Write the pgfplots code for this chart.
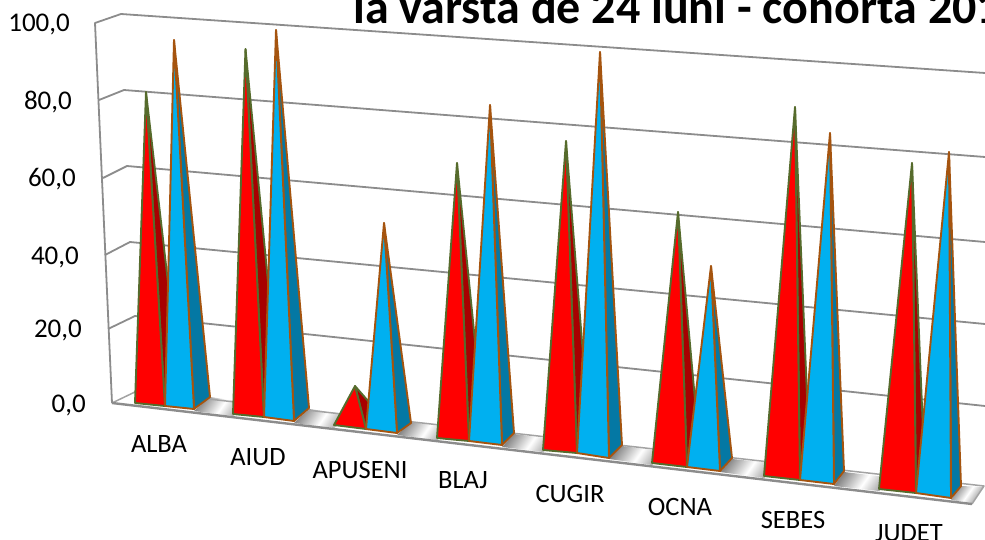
\documentclass[border=0pt]{standalone}
\usepackage{fontspec}
\setmainfont{Carlito}
\usepackage{pgfplots}
\pgfplotsset{compat=1.18}

\definecolor{redface}{HTML}{FF0000}
\definecolor{redside}{HTML}{A80000}
\definecolor{blueface}{HTML}{00B0F0}
\definecolor{blueside}{HTML}{0478A4}
\definecolor{redline}{HTML}{566B2C}
\definecolor{blueline}{HTML}{A5540F}
\definecolor{wall}{HTML}{8C8C8C}

% front-left, front-right, back-right, apex (picture coordinates)
\newcommand{\redpyr}[4]{
  \addplot[fill=redside, draw=redline, line width=1.9pt, line join=round] coordinates {#2 #3 #4} -- cycle;
  \addplot[fill=redface, draw=redline, line width=1.9pt, line join=round] coordinates {#1 #2 #4} -- cycle;
}
\newcommand{\bluepyr}[4]{
  \addplot[fill=blueside, draw=blueline, line width=1.9pt, line join=round] coordinates {#2 #3 #4} -- cycle;
  \addplot[fill=blueface, draw=blueline, line width=1.9pt, line join=round] coordinates {#1 #2 #4} -- cycle;
}
\newcommand{\gap}[1]{
  \addplot[draw=none, left color=gray!95, right color=gray!110!black, middle color=white, shading angle=55] coordinates {#1} -- cycle;
}
\newcommand{\ticklab}[2]{\node[anchor=base east, inner sep=0pt, font=\fontsize{27}{30}\selectfont] at (axis cs:#1) {#2};}
\newcommand{\catlab}[2]{\node[anchor=base, inner sep=0pt, font=\fontsize{26.5}{30}\selectfont] at (axis cs:#1) {#2};}

\begin{document}
\begin{tikzpicture}
\begin{axis}[
  at={(0pt,0pt)}, anchor=south west,
  width=985pt, height=540pt, scale only axis,
  xmin=0, xmax=985, ymin=0, ymax=540, y dir=reverse,
  hide axis, clip=true,
]
% walls and grid lines
\addplot[draw=wall, line width=1.8pt, line join=round] coordinates {(112,403) (95,23) (121,14) (985,73)};
\addplot[draw=wall, line width=1.8pt, line join=round] coordinates {(99,100) (124,90) (985,157)};
\addplot[draw=wall, line width=1.8pt, line join=round] coordinates {(103,178) (127,166) (985,242)};
\addplot[draw=wall, line width=1.8pt, line join=round] coordinates {(105,255) (130,242) (985,324)};
\addplot[draw=wall, line width=1.8pt, line join=round] coordinates {(108,329) (135,316) (985,406)};

% floor
\addplot[fill=white, draw=none] coordinates {(112,403) (972,504) (984,486) (137,391)} -- cycle;
\gap{(194,411) (233,416) (250,403) (210,397)}
\gap{(294,423) (334,428) (352,415) (309,409)}
\gap{(397,435) (437,440) (455,428) (411,422)}
\gap{(502,447) (543,452) (560,440) (514,434)}
\gap{(609,459) (652,465) (668,452) (622,446)}
\gap{(720,472) (764,478) (780,464) (732,459)}
\gap{(834,486) (879,491) (895,478) (844,472)}
\gap{(951,500) (972,503) (984,487) (961,486)}
\addplot[draw=wall!80, line width=1.5pt, line join=round] coordinates {(112,403) (137,391) (984,486) (972,504)};
\addplot[draw=wall, line width=2.4pt] coordinates {(112,403) (972,504)};

% ALBA
\redpyr{(135,403)}{(165,406)}{(181,395)}{(146,92)}
\bluepyr{(165,406)}{(194,409)}{(210,397)}{(174,40)}
% AIUD
\redpyr{(233,414)}{(264,417)}{(280,406)}{(245.5,49)}
\bluepyr{(264,417)}{(294,421)}{(309,408)}{(276,30)}
% APUSENI
\redpyr{(334,425)}{(366,429)}{(382,417)}{(355,386)}
\bluepyr{(366,429)}{(397,433)}{(411,423)}{(384,223)}
% BLAJ
\redpyr{(437,438)}{(469,441)}{(484,430)}{(457,163)}
\bluepyr{(469,441)}{(502,445)}{(514,433)}{(490,105)}
% CUGIR
\redpyr{(543,450)}{(577,453)}{(590,442)}{(566,141)}
\bluepyr{(577,453)}{(609,458)}{(622,445)}{(600,52)}
% OCNA
\redpyr{(652,463)}{(687,467)}{(700,455)}{(678,212)}
\bluepyr{(687,467)}{(720,471)}{(732,458)}{(711,266)}
% SEBES
\redpyr{(764,476)}{(800,480)}{(810,468)}{(795,107)}
\bluepyr{(800,480)}{(834,484)}{(844,471)}{(830,133)}
% JUDET
\redpyr{(879,489)}{(916,493)}{(925,480)}{(912,163)}
\bluepyr{(916,493)}{(951,498)}{(961,486)}{(949,152)}

\ticklab{70,32}{100,0}
\ticklab{72,110}{80,0}
\ticklab{76,187}{60,0}
\ticklab{79,264}{40,0}
\ticklab{82,337}{20,0}
\ticklab{86,412}{0,0}

\catlab{159,452}{ALBA}
\catlab{258,465}{AIUD}
\catlab{360,478}{APUSENI}
\catlab{463,488}{BLAJ}
\catlab{570,502}{CUGIR}
\catlab{680,515}{OCNA}
\catlab{793,528}{SEBES}
\catlab{909,541}{JUDET}

\node[anchor=base west, inner sep=0pt, font=\fontsize{48}{54}\selectfont\bfseries] at (axis cs:353,24) {la varsta de 24 luni - cohorta 201};
\end{axis}
\pgfresetboundingbox
\path[use as bounding box] (0pt,0pt) rectangle (985pt,540pt);
\end{tikzpicture}
\end{document}
